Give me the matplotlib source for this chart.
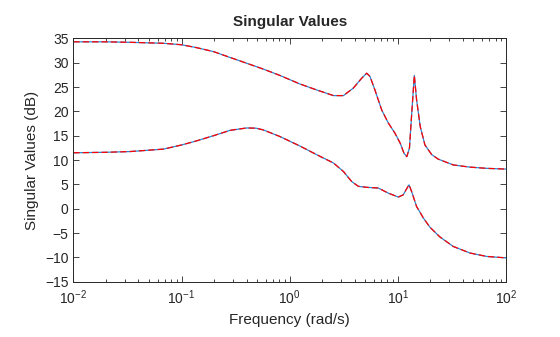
'''
Script used to redraw the singular value plot of two overlaid systems
'''
import matplotlib
matplotlib.use('Agg')
import matplotlib.pyplot as plt
from matplotlib.ticker import LogLocator, LogFormatterMathtext, MultipleLocator

# ---------------------------------
freq_hi = [0.01, 0.02, 0.0334, 0.068, 0.1, 0.138, 0.197, 0.28, 0.40, 0.57,
           0.81, 1.24, 1.78, 2.54, 3.14, 3.88, 4.62, 5.15, 5.52, 6.14,
           7.09, 8.17, 9.42, 10.5, 11.4, 12.1, 12.8, 13.5, 14.2, 14.9,
           16.1, 17.8, 20.6, 23.6, 32.5, 46.4, 66.2, 100.0]
sv_hi   = [34.3, 34.3, 34.2, 34.0, 33.7, 33.1, 32.3, 31.1, 29.9, 28.7,
           27.4, 25.65, 24.4, 23.25, 23.25, 24.8, 26.8, 27.85, 27.2, 24.4,
           20.3, 17.6, 15.5, 13.5, 11.4, 10.7, 12.45, 20.3, 27.4, 22.4,
           16.9, 13.1, 11.1, 10.2, 9.0, 8.55, 8.3, 8.15]

freq_lo = [0.01, 0.02, 0.0334, 0.068, 0.1, 0.138, 0.197, 0.28, 0.40, 0.49,
           0.57, 0.81, 1.24, 1.78, 2.54, 3.14, 3.74, 4.31, 5.15, 6.6,
           8.17, 10.1, 11.2, 12.5, 12.7, 13.4, 14.9, 16.2, 17.2, 19.8,
           24.5, 32.5, 46.4, 66.2, 100.0]
sv_lo   = [11.5, 11.6, 11.75, 12.25, 13.1, 13.95, 15.0, 16.1, 16.6, 16.55,
           16.2, 14.85, 12.9, 11.1, 9.4, 7.65, 5.6, 4.6, 4.4, 4.25,
           3.2, 2.4, 2.85, 4.7, 4.9, 3.55, 0.45, -0.9, -1.9, -3.8,
           -5.8, -7.75, -9.1, -9.8, -10.1]

y_ticks = [-15, -10, -5, 0, 5, 10, 15, 20, 25, 30, 35]

col_blue = '#2F86D0'
col_red  = '#FF0000'
col_txt  = '#262626'
# ---------------------------------
def _initialize() -> None:
    plt.rcParams['font.family']      = ['Liberation Sans', 'DejaVu Sans']
    plt.rcParams['mathtext.fontset'] = 'custom'
    plt.rcParams['mathtext.rm']      = 'Liberation Sans'
    plt.rcParams['mathtext.it']      = 'Liberation Sans'
    plt.rcParams['font.size']        = 10
# ---------------------------------
def _style_axes(ax) -> None:
    ax.set_xscale('log')
    ax.set_xlim(0.01, 100)
    ax.set_ylim(-15, 35)
    ax.set_yticks(y_ticks)
    ax.yaxis.set_minor_locator(MultipleLocator(100))

    ax.xaxis.set_major_locator(LogLocator(base=10, numticks=10))
    ax.xaxis.set_major_formatter(LogFormatterMathtext())
    ax.xaxis.set_minor_locator(LogLocator(base=10, subs=range(2, 10), numticks=10))

    ax.tick_params(which='both', direction='in', top=True, right=True,
                   colors=col_txt, labelsize=10, width=0.6)
    ax.tick_params(which='major', length=4)
    ax.tick_params(which='minor', length=2.5)
    ax.tick_params(axis='x', which='major', pad=5)
    ax.tick_params(axis='y', which='minor', length=0)
    for spine in ax.spines.values():
        spine.set_linewidth(0.7)
        spine.set_color(col_txt)

    ax.set_title('Singular Values', fontsize=11, fontweight='bold', color=col_txt, pad=9)
    ax.set_xlabel('Frequency (rad/s)', fontsize=11, color=col_txt)
    ax.set_ylabel('Singular Values (dB)', fontsize=11, color=col_txt)
# ---------------------------------
def main():
    '''
    start here
    '''
    _initialize()

    fig = plt.figure(figsize=(5.6, 3.37), dpi=100)
    ax  = fig.add_axes([0.131, 0.164, 0.7726, 0.722])

    for freq, sval in [(freq_hi, sv_hi), (freq_lo, sv_lo)]:
        ax.plot(freq, sval, color=col_blue, lw=0.9, ls='-')
        ax.plot(freq, sval, color=col_red , lw=0.9, ls=(0, (5, 2.5)))

    _style_axes(ax)

    fig.savefig('out.png', dpi=100)
    plt.close(fig)
# ---------------------------------
if __name__ == '__main__':
    main()
